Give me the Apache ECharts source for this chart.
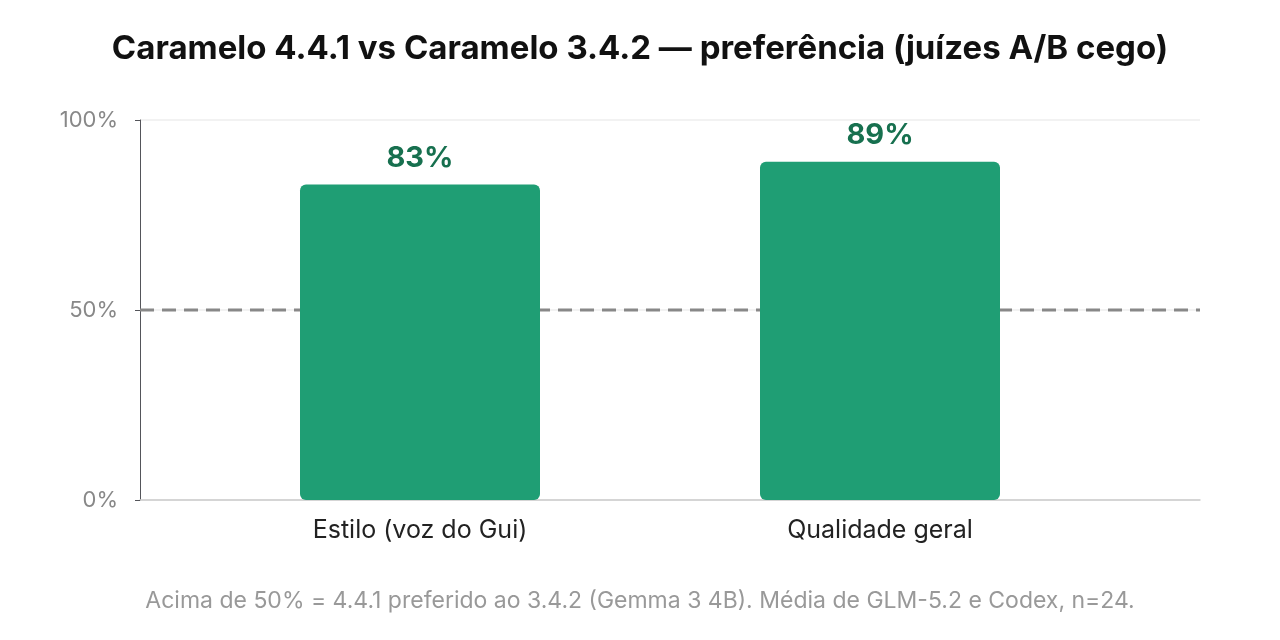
<!DOCTYPE html>
<html><head><meta charset="utf-8">
<script src="https://cdn.jsdelivr.net/npm/echarts@6/dist/echarts.min.js"></script>
<style>html,body{margin:0;background:#fff}#c{width:1280px;height:640px}</style>
</head><body><div id="c"></div>
<script>
const categories = ['Estilo (voz do Gui)', 'Qualidade geral'];
const values = [83, 89];
const yTicks = [0, 50, 100];
const tieValue = 50;
const F = 'Inter, "Noto Sans", sans-serif';
const chart = echarts.init(document.getElementById('c'));
chart.setOption({
  animation: false,
  title: {text: 'Caramelo 4.4.1 vs Caramelo 3.4.2 — preferência (juízes A/B cego)', left: 'center', top: 28,
    textStyle: {fontFamily: F, fontSize: 33, fontWeight: 'bold', color: '#111'}},
  grid: [{left: 140, right: 80, top: 120, bottom: 140}, {left: 190, right: 170, top: 120, bottom: 140}],
  xAxis: [
    {type: 'value', gridIndex: 0, min: 0, max: 1, axisLabel: {show: false}, axisTick: {show: false}, splitLine: {show: false},
      axisLine: {onZero: false, lineStyle: {color: '#ccc', width: 1.5}}},
    {type: 'category', gridIndex: 1, data: categories, axisTick: {show: false}, axisLine: {show: false},
      axisLabel: {fontFamily: F, fontSize: 25, color: '#222', margin: 18}}
  ],
  yAxis: [
    {type: 'value', gridIndex: 0, min: 0, max: 100, interval: 50,
      axisLabel: {fontFamily: F, fontSize: 22, color: '#888', margin: 22, formatter: v => yTicks.includes(v) ? v + '%' : ''},
      splitLine: {lineStyle: {color: '#eee', width: 1.5}}},
    {type: 'value', gridIndex: 1, min: 0, max: 100, show: false}
  ],
  series: [
    {type: 'line', xAxisIndex: 0, yAxisIndex: 0, z: 1, symbol: 'none', silent: true,
      lineStyle: {color: '#888', type: [14, 8], width: 3},
      data: [{value: [0, tieValue]}, {value: [1, tieValue], label: {show: true, position: 'top', align: 'right', offset: [-8, -2],
        formatter: 'empate (50%)', fontFamily: F, fontSize: 22, color: '#888'}}]},
    {type: 'bar', xAxisIndex: 1, yAxisIndex: 1, z: 3, data: values, barWidth: 240,
      itemStyle: {color: '#1f9e74', borderRadius: 6},
      label: {show: true, position: 'top', distance: 12, formatter: '{c}%', fontFamily: F, fontSize: 29, fontWeight: 'bold', color: '#17704f'}}
  ],
  graphic: [{type: 'text', left: 'center', top: 590,
    style: {text: 'Acima de 50% = 4.4.1 preferido ao 3.4.2 (Gemma 3 4B). Média de GLM-5.2 e Codex, n=24.',
      font: '23px ' + F, fill: '#999'}}]
});
</script></body></html>
